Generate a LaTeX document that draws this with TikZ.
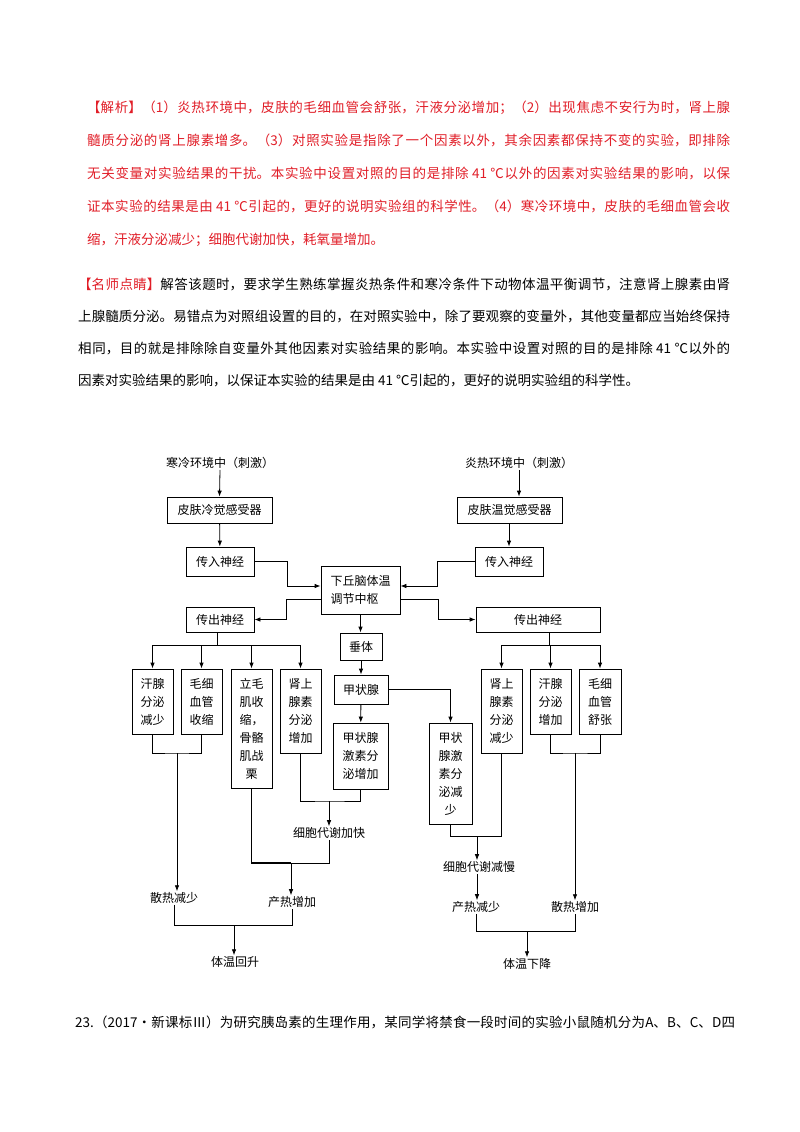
\documentclass[tikz,border=0pt]{standalone}
\usepackage{fontspec}
\setmainfont{Noto Sans CJK SC}
\usetikzlibrary{arrows.meta}
\XeTeXlinebreaklocale "zh"
\XeTeXlinebreakskip=0pt plus 3pt
\definecolor{redtxt}{RGB}{225,30,40}
\begin{document}
\begin{tikzpicture}[x=1pt,y=-1pt,
  bx/.style={draw,line width=0.8pt,inner sep=0pt,align=center,font=\fontsize{12}{18}\selectfont},
  lb/.style={inner sep=1pt,font=\fontsize{12}{18}\selectfont},
  ar/.style={-{Latex[length=6pt,width=4.5pt]},line width=0.8pt},
  ln/.style={line width=0.8pt},
  para/.style={anchor=north west,inner sep=0pt,align=justify,font=\fontsize{13.5}{33}\selectfont}]
\path[use as bounding box,fill=white] (0,0) rectangle (800,1132);
% paragraphs
\node[para,text width=643,text=redtxt] (p1) at (87,101) {【解析】（1）炎热环境中，皮肤的毛细血管会舒张，汗液分泌增加；（2）出现焦虑不安行为时，肾上腺\linebreak 髓质分泌的肾上腺素增多。（3）对照实验是指除了一个因素以外，其余因素都保持不变的实验，即排除\linebreak 无关变量对实验结果的干扰。本实验中设置对照的目的是排除 41 ℃以外的因素对实验结果的影响，以保\linebreak 证本实验的结果是由 41 ℃引起的，更好的说明实验组的科学性。（4）寒冷环境中，皮肤的毛细血管会收\linebreak 缩，汗液分泌减少；细胞代谢加快，耗氧量增加。};
\node[para,text width=652,font=\fontsize{13.5}{32}\selectfont] (p2) at (78,278) {\textcolor{redtxt}{【名师点睛】}解答该题时，要求学生熟练掌握炎热条件和寒冷条件下动物体温平衡调节，注意肾上腺素由肾\linebreak 上腺髓质分泌。易错点为对照组设置的目的，在对照实验中，除了要观察的变量外，其他变量都应当始终保持\linebreak 相同，目的就是排除除自变量外其他因素对实验结果的影响。本实验中设置对照的目的是排除 41 ℃以外的\linebreak 因素对实验结果的影响，以保证本实验的结果是由 41 ℃引起的，更好的说明实验组的科学性。};
\node[para,text width=660,font=\fontsize{13.5}{32}\selectfont] (p3) at (75,1016) {23.（2017·新课标Ⅲ）为研究胰岛素的生理作用，某同学将禁食一段时间的实验小鼠随机分为A、B、C、D四\linebreak};
% diagram nodes
\node[lb] (tc) at (220,463) {寒冷环境中（刺激）};
\node[lb] (th) at (519,463) {炎热环境中（刺激）};
\node[bx,minimum width=105,minimum height=26] (lcr) at (219.5,510) {皮肤冷觉感受器};
\node[bx,minimum width=105,minimum height=26] (rcr) at (509.5,510) {皮肤温觉感受器};
\node[bx,minimum width=68,minimum height=29] (lin) at (220,561.5) {传入神经};
\node[bx,minimum width=68,minimum height=29] (rin) at (509,561.5) {传入神经};
\node[bx,minimum width=79,minimum height=48,align=left] (c) at (360.5,590) {下丘脑体温\\调节中枢};
\node[bx,minimum width=68,minimum height=25] (lout) at (220,619.5) {传出神经};
\node[bx,minimum width=124,minimum height=25] (rout) at (538,619.5) {传出神经};
\node[bx,minimum width=42,minimum height=27] (cb) at (361,646.5) {垂体};
\node[bx,minimum width=54,minimum height=29] (jz) at (361,689.5) {甲状腺};
\node[bx,minimum width=55,minimum height=66] (jzu) at (360.5,756) {甲状腺\\激素分\\泌增加};
\node[bx,minimum width=43,minimum height=101] (jzd) at (450.5,773.5) {甲状\\腺激\\素分\\泌减\\少};
\node[bx,minimum width=41,minimum height=65] (L1) at (152.5,701.5) {汗腺\\分泌\\减少};
\node[bx,minimum width=41,minimum height=65] (L2) at (201.5,701.5) {毛细\\血管\\收缩};
\node[bx,minimum width=41,minimum height=119] (L3) at (251.5,728.5) {立毛\\肌收\\缩，\\骨骼\\肌战\\栗};
\node[bx,minimum width=41,minimum height=84] (L4) at (300.5,711) {肾上\\腺素\\分泌\\增加};
\node[bx,minimum width=41,minimum height=84] (R1) at (501.5,711) {肾上\\腺素\\分泌\\减少};
\node[bx,minimum width=41,minimum height=65] (R2) at (550.5,701.5) {汗腺\\分泌\\增加};
\node[bx,minimum width=42,minimum height=65] (R3) at (600,701.5) {毛细\\血管\\舒张};
\node[lb] (s1) at (174,898) {散热减少};
\node[lb] (m1) at (329,833) {细胞代谢加快};
\node[lb] (q1) at (292,902) {产热增加};
\node[lb] (f1) at (235,962) {体温回升};
\node[lb] (m2) at (479,867) {细胞代谢减慢};
\node[lb] (q2) at (476,907) {产热减少};
\node[lb] (s2) at (575,907) {散热增加};
\node[lb] (f2) at (527,964) {体温下降};
\coordinate (bl) at (217,645);
\coordinate (br) at (549,645);
\coordinate (j1) at (177,753);
\coordinate (j2) at (329,801);
\coordinate (j3) at (291,863);
\coordinate (j4) at (234,925);
\coordinate (j5) at (477,836);
\coordinate (j6) at (575,753);
\coordinate (j7) at (527,931);
% connectors
\draw[ar] (tc.south) -- (lcr.north);
\draw[ar] (th.south) -- (th.south|-rcr.north);
\draw[ar] (lcr) -- (lin);
\draw[ar] (rcr.south-|rin) -- (rin);
\draw[ar] (lin.east) -- ++(33,0) |- ([yshift=4pt]c.west);
\draw[ar] (rin.west) -- ++(-37,0) |- ([yshift=4pt]c.east);
\draw[ar] ([yshift=-9pt]c.west) -- ++(-34,0) |- (lout.east);
\draw[ar] ([yshift=-9pt]c.east) -- ++(38,0) |- (rout.west);
\draw[ar] (c.south) -- (c.south|-cb.north);
\draw[ar] (cb) -- (jz);
\draw[ar] (jz) -- (jzu);
\draw[ar] (jz.east) -| (jzd.north);
\draw[ln] (lout.south-|bl) -- (bl);
\draw[ln] (L1.north|-bl) -- (L4.north|-bl);
\foreach \b in {L1,L2,L3,L4} \draw[ar] (\b.north|-bl) -- (\b.north);
\draw[ln] (rout.south-|br) -- (br);
\draw[ln] (R1.north|-br) -- (R3.north|-br);
\foreach \b in {R1,R2,R3} \draw[ar] (\b.north|-br) -- (\b.north);
\draw[ln] (L1.south) |- (j1) -| (L2.south);
\draw[ar] (j1) -- (j1|-s1.north);
\draw[ln] (L4.south) |- (j2) -| (jzu.south);
\draw[ar] (j2) -- (m1.north);
\draw[line width=1.5pt] (L3.south) |- (j3);
\draw[ln] (m1.south) |- (j3);
\draw[ar] (j3) -- (j3|-q1.north);
\draw[ln] (s1.south) |- (j4) -| (q1.south);
\draw[ar] (j4) -- (j4|-f1.north);
\draw[ln] (jzd.south) |- (j5) -| (R1.south);
\draw[ar] (j5) -- (j5|-m2.north);
\draw[ar] (m2.south-|j5) -- (j5|-q2.north);
\draw[ln] (R2.south) |- (j6) -| (R3.south);
\draw[ar] (j6) -- (j6|-s2.north);
\draw[ln] (q2.south) |- (j7) -| (s2.south);
\draw[ar] (j7) -- (j7|-f2.north);
\end{tikzpicture}
\end{document}
